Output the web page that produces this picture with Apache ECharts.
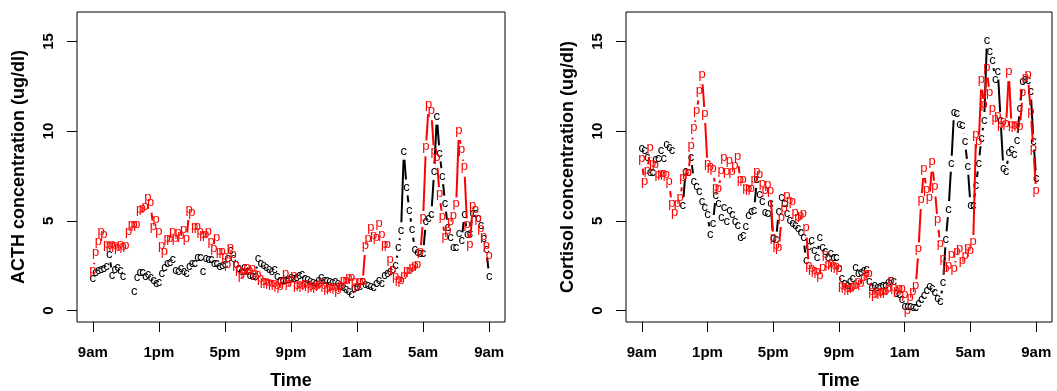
<!DOCTYPE html>
<html><head><meta charset="utf-8">
<script src="https://cdn.jsdelivr.net/npm/echarts@6/dist/echarts.min.js"></script>
<style>html,body{margin:0;padding:0;background:#fff}#c{width:1057px;height:391px}</style>
</head><body><div id="c"></div>
<script>
// Sampling every 10 minutes from 9am (hour 0) to 9am next day (hour 24)
const tickHours = [0, 4, 8, 12, 16, 20, 24];
const tickLabels = ['9am', '1pm', '5pm', '9pm', '1am', '5am', '9am'];
const yTicks = [0, 5, 10, 15];

// ACTH, control subject ("c")
const acthC = [
  1.77, 2.1, 2.24, 2.27, 2.35, 2.46, 3.13, 1.96, 2.27, 2.39, 2.24, 1.9,
  null, null, null,
  1.06, 1.86, 2.14, 2.14, 1.92, 2.0, 1.86, 1.68, 1.53, 1.55, 2.05, 2.39, 2.61, 2.7, 2.85,
  2.24, 2.2, 2.33, 2.2, 2.05, 2.45, 2.6, 2.65, 2.94, 2.94, 2.18, 2.89, 2.85, 2.83, 2.65, 2.6, 2.46, 2.5,
  2.55, 2.89, 3.35, 2.9, 2.55, 2.33, 2.2, 2.42, 2.2, 1.96, 1.9, 1.9,
  2.89, 2.6, 2.5, 2.42, 2.3, 2.2, 2.3, 1.9, 1.68, 1.68, 1.68, 1.71, 1.83, 1.8, 1.85, 1.96, 2.0, 1.77, 1.71, 1.6,
  1.58, 1.53, 1.7, 1.86, 1.7, 1.65, 1.6, 1.58, 1.62, 1.5, 1.35, 1.28, 1.2, 1.05, 0.9, 1.25, 1.3, 1.34, 1.6,
  1.45, 1.4, 1.35, 1.3, 1.53, 1.68, 1.49, 1.96, 2.09, 2.2, 2.27, 2.5, 3.5, 4.47,
  8.85, 6.86, 5.59, 4.51, 3.39, 3.26, 3.17, 3.2, 4.94, 5.15, 5.37, 7.73, 10.8, 8.76, 7.49, 5.96,
  4.62, 4.1, 3.54, 3.54, 4.32, 3.91, 5.37, 4.25, 4.28, 5.44, 5.4, 5.12, 4.75, 4.0, 3.39, 1.9
];
// ACTH, patient ("p")
const acthP = [
  2.14, 3.1, 3.75, 4.3, 4.12, 3.55, 3.5, 3.6, 3.5, 3.4, 3.55, 3.45, 3.52, 4.28, 4.68, 4.68, 4.66, 5.5, 5.59, 5.7, 6.19, 5.9,
  4.57, 4.94, 4.32, 3.54, 3.2, 3.91, 3.91, 4.32, 3.91, 4.25, 4.1, 4.43, 3.91, 5.5, 5.37, 4.57, 4.57, 4.3, 4.14, 4.14, 4.32, 3.73, 3.35, 3.95, 3.2, 3.17,
  2.9, 2.46, 3.39, 3.02, 2.46, 2.2, 1.86, 2.05, 2.27, 2.1, 2.24, 1.96, 1.9, 1.7, 1.53, 1.49, 1.45, 1.4, 1.4, 1.3,
  1.21, 1.49, 1.96, 1.4, 1.6, 1.86, 1.27, 1.35, 1.3, 1.4, 1.35, 1.25, 1.3, 1.21, 1.35, 1.45, 1.3, 1.12, 1.2, 1.25, 1.15, 1.02, 1.3, 1.58, 1.58, 1.71, 1.71, 1.5, 1.21, 1.49, 1.5,
  3.54, 3.91, 4.5, 4.1, 3.95, 4.72, 4.15, 3.6, 3.6, 2.73, 2.2, 1.8, 1.6, 1.58, 1.86, 2.1, 2.1, 2.3, 2.4, 2.45, 3.2, 5.1, 9.04, 11.4, 11.05,
  8.76, 8.4, 6.43, 5.12, 4.0, 4.38, 4.85, 5.18, 5.85, 9.95, 8.85, 7.9, 4.7, 3.6, 5.77, 5.5, 5.03, 4.45, 4.0, 3.5, 2.95
];
// Cortisol, control subject ("c")
const cortC = [
  9.04, 8.9, 8.55, 7.67, 7.67, 8.4, 8.48, 8.9, 8.48, 9.28, 9.1, 8.94,
  null, null, null,
  5.87, 7.78, 7.68, 8.55, 7.2, 6.9, 6.64, 6.1, 5.72, 5.37,
  4.25, 4.88, 6.43, 5.96, 5.2, 5.77, 4.99, 5.6, 5.38, 4.94, 4.75, 4.1, 4.16, 4.7, 5.3, 5.55, 5.59, 7.28, 6.48, 6.1, 5.45, 5.42, 5.95, 4.0, 3.95,
  5.5, 6.33, 5.96, 5.4, 5.0, 4.85, 4.75, 4.6, 4.38, 4.06, 2.78, 3.55, 3.9, 3.35, 2.98, 4.05, 3.5, 3.3, 2.98, 3.17, 2.94, 2.94, 2.33,
  1.77, 1.49, 1.4, 1.64, 1.77, 2.42, 2.09, 2.1, 2.24, 2.27, 1.6, 1.3, 1.4, 1.3, 1.35, 1.4, 1.4, 1.58, 1.65, 1.64, 0.93, 0.92, 0.6,
  0.22, 0.22, 0.22, 0.2, 0.19, 0.4, 0.6, 0.85, 1.1, 1.34, 1.21, 1.02, 0.65, 0.52, 1.55, 3.97, 5.65, 8.18,
  11.05, 11.0, 10.4, 10.3, 9.41, 8.01, 5.87, 5.85, 6.99, 8.2, 9.6, 10.62, 15.05, 14.44, 13.95, 12.9, 13.32, 10.62, 7.92, 7.73,
  8.79, 8.98, 8.72, 9.46, 11.27, 12.76, 12.9, 12.8, 12.2, 9.41, 7.36
];
// Cortisol, patient ("p")
const cortP = [
  8.35, 7.1, 7.7, 9.0, 8.1, 8.05, 7.5, 7.55, 7.55, 7.5, 7.1,
  5.87, 5.37, 5.87, 6.2, 7.31, 7.6, 7.6, 9.1, 10.08, 11.04, 12.15, 13.06, 10.9, 8.07,
  7.9, 7.83, 6.75, 6.67, 7.7, 8.45, 7.64, 8.23, 7.64, 7.98, 8.5, 7.2, 7.17, 6.75, 6.71, 6.71, 7.2, 7.65, 7.49, 6.99, 6.61, 6.93, 6.6,
  3.95, 3.54, 3.39, 5.1, 5.6, 6.3, 6.0, 5.96, 5.37, 5.1, 5.2, 5.3, 4.51, 2.42, 2.24, 2.14, 2.05, 1.86, 2.3, 3.02, 2.46, 2.5, 2.42, 2.33, 2.24,
  1.27, 1.21, 1.1, 1.12, 1.21, 1.3, 1.49, 1.4, 1.71, 1.96, 1.96, 0.93, 0.8, 0.95, 0.9, 0.93, 0.95, 1.1, 1.58, 1.2, 1.0, 1.12, 1.12, 0.8, -0.09, 0.6, 0.97, 1.3,
  3.35, 6.1, 7.83, 6.65, 6.2, 8.18, 6.8, 4.94, 3.63, 2.8, 2.24, 2.42, 3.0, 2.24, 3.2, 3.35, 2.7, 2.98, 3.39, 3.26,
  3.76, 9.73, 9.32, 12.76, 11.36, 13.42, 12.02, 11.14, 10.62, 10.77, 10.25, 10.44, 10.3, 13.23, 10.25, 10.2, 10.25, 10.15, 12.02, 12.86, 13.04, 11.0, 8.94, 6.61
];

const FONT = 'Liberation Sans, Arial, Helvetica, sans-serif';
const GAP = 8;       // type="b" gap around each point (px)
const STEP = 1 / 6;  // 10 minutes in hours

function segs(vals) {
  const out = [];
  for (let i = 0; i < vals.length - 1; i++) {
    if (vals[i] != null && vals[i + 1] != null) out.push([i * STEP, vals[i], (i + 1) * STEP, vals[i + 1]]);
  }
  return out;
}
function pts(vals) {
  const out = [];
  vals.forEach((v, i) => { if (v != null) out.push([i * STEP, v]); });
  return out;
}
function lineSeries(g, vals, color) {
  return {
    type: 'custom', xAxisIndex: g, yAxisIndex: g, silent: true, animation: false,
    encode: { x: [0, 2], y: [1, 3] },
    data: segs(vals),
    renderItem: function (params, api) {
      const a = api.coord([api.value(0), api.value(1)]);
      const b = api.coord([api.value(2), api.value(3)]);
      const dx = b[0] - a[0], dy = b[1] - a[1];
      const d = Math.hypot(dx, dy);
      if (d <= 2 * GAP) return null;
      const ux = dx / d, uy = dy / d;
      return {
        type: 'line',
        shape: { x1: a[0] + ux * GAP, y1: a[1] + uy * GAP, x2: b[0] - ux * GAP, y2: b[1] - uy * GAP },
        style: { stroke: color, lineWidth: 2 }
      };
    }
  };
}
function textSeries(g, vals, ch, color, dy) {
  return {
    type: 'custom', xAxisIndex: g, yAxisIndex: g, silent: true, animation: false,
    encode: { x: 0, y: 1 },
    data: pts(vals),
    renderItem: function (params, api) {
      const p = api.coord([api.value(0), api.value(1)]);
      return {
        type: 'text', x: p[0], y: p[1] + dy,
        style: { text: ch, fill: color, fontSize: 13, fontFamily: FONT, align: 'center', verticalAlign: 'middle' }
      };
    }
  };
}
function xAxisCfg(g) {
  return {
    type: 'value', gridIndex: g, min: -0.96, max: 24.96,
    axisLine: { show: false, onZero: false }, splitLine: { show: false },
    axisTick: { show: true, inside: false, length: 10, customValues: tickHours, lineStyle: { color: '#000', width: 1 } },
    axisLabel: {
      customValues: tickHours, formatter: v => tickLabels[tickHours.indexOf(v)],
      fontSize: 15, fontWeight: 'bold', color: '#000', margin: 23, fontFamily: FONT
    },
    name: 'Time', nameLocation: 'middle', nameGap: 50,
    nameTextStyle: { fontSize: 18, fontWeight: 'bold', color: '#000', fontFamily: FONT }
  };
}
function yAxisCfg(g, name) {
  return {
    type: 'value', gridIndex: g, min: -0.64, max: 16.64,
    axisLine: { show: false, onZero: false }, splitLine: { show: false },
    axisTick: { show: true, inside: false, length: 10, customValues: yTicks, lineStyle: { color: '#000', width: 1 } },
    axisLabel: {
      customValues: yTicks, rotate: 90, fontSize: 15, fontWeight: 'bold', color: '#000', margin: 21, fontFamily: FONT
    },
    name: name, nameLocation: 'middle', nameGap: 49, nameRotate: 90,
    nameTextStyle: { fontSize: 18, fontWeight: 'bold', color: '#000', fontFamily: FONT }
  };
}

const chart = echarts.init(document.getElementById('c'), null, { renderer: 'canvas' });
chart.setOption({
  animation: false,
  backgroundColor: '#fff',
  textStyle: { fontFamily: FONT },
  grid: [
    { left: 77, top: 12, width: 428, height: 310, outerBoundsMode: 'none', containLabel: false, show: true, borderColor: '#000', borderWidth: 1, backgroundColor: 'transparent' },
    { left: 626, top: 12, width: 426, height: 310, outerBoundsMode: 'none', containLabel: false, show: true, borderColor: '#000', borderWidth: 1, backgroundColor: 'transparent' }
  ],
  xAxis: [xAxisCfg(0), xAxisCfg(1)],
  yAxis: [yAxisCfg(0, 'ACTH concentration (ug/dl)'), yAxisCfg(1, 'Cortisol concentration (ug/dl)')],
  series: [
    lineSeries(0, acthC, '#000'), textSeries(0, acthC, 'c', '#000', 0),
    lineSeries(0, acthP, '#ff0000'), textSeries(0, acthP, 'p', '#ff0000', -2),
    lineSeries(1, cortC, '#000'), textSeries(1, cortC, 'c', '#000', 0),
    lineSeries(1, cortP, '#ff0000'), textSeries(1, cortP, 'p', '#ff0000', -2)
  ]
});
</script></body></html>
